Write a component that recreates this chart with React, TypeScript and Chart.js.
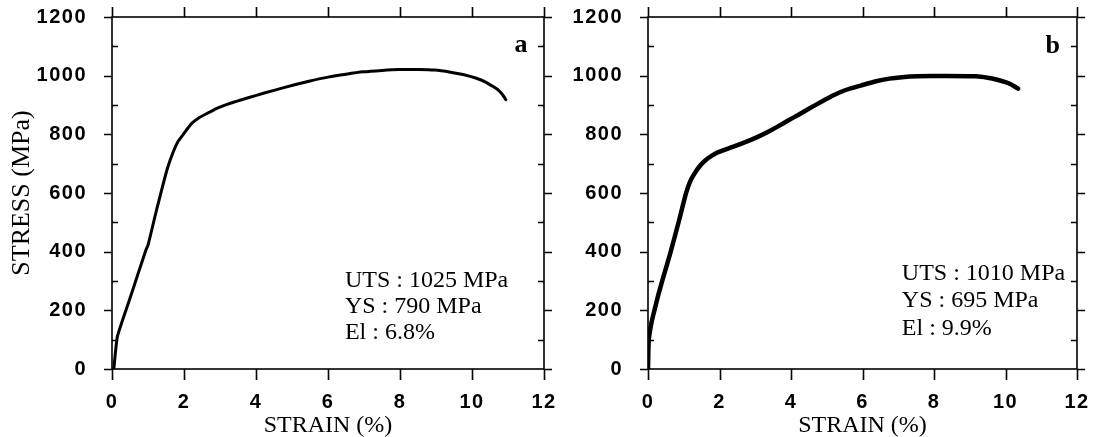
import React, { useEffect, useRef } from 'react';
import { Chart, registerables } from 'chart.js';

Chart.register(...registerables);

// ---- data ----
const xTickValues = [0, 2, 4, 6, 8, 10, 12];
const yTickValues = [0, 200, 400, 600, 800, 1000, 1200];
const yMinorTickValues = [100, 300, 500, 700, 900, 1100];

const strainA = [0.05, 0.15, 0.5, 0.94, 1.0, 1.24, 1.53, 1.7, 1.83, 1.98, 2.1, 2.23, 2.4, 2.62, 2.9, 3.22, 3.6, 4.01, 4.5, 5.1, 5.5, 6.0, 6.5, 6.98, 7.5, 7.97, 8.5, 8.96, 9.4, 9.75, 10.1, 10.35, 10.6, 10.74, 10.85, 10.94];
const stressA = [0, 111, 241, 405, 422, 543, 680, 740, 775, 800, 820, 839, 855, 870, 888, 903, 918, 933, 950, 970, 982, 995, 1005, 1013, 1018, 1021, 1021, 1019, 1012, 1004, 992, 980, 962, 950, 935, 918];

const strainB = [0, 0.02, 0.1, 0.18, 0.3, 0.43, 0.62, 0.87, 1.06, 1.18, 1.3, 1.45, 1.6, 1.8, 1.98, 2.37, 2.86, 3.1, 3.35, 3.65, 3.93, 4.2, 4.51, 4.85, 5.19, 5.55, 5.97, 6.35, 6.75, 7.1, 7.53, 8.31, 9.18, 9.5, 9.77, 10.0, 10.16, 10.35];
const stressB = [0, 98, 160, 200, 258, 314, 393, 507, 598, 640, 666, 692, 711, 728, 740, 757, 780, 793, 808, 828, 848, 866, 888, 911, 933, 952, 967, 980, 990, 995, 998, 999, 998, 993, 986, 978, 970, 956];

const notesA = ['UTS : 1025 MPa', 'YS : 790 MPa', 'El : 6.8%'];
const notesB = ['UTS : 1010 MPa', 'YS : 695 MPa', 'El : 9.9%'];

const xTitle = 'STRAIN (%)';
const yTitle = 'STRESS (MPa)';

// ---- layout / style (not data) ----
type Panel = {
  strain: number[];
  stress: number[];
  notes: string[];
  letter: string;
  showYTitle: boolean;
  canvasLeft: number;
  canvasWidth: number;
  yAxisWidth: number;
  padRight: number;
  lineWidth: number;
  noteX: number;
  noteY: number[];
  letterX: number;
  letterY: number;
};

const panels: Panel[] = [
  {
    strain: strainA, stress: stressA, notes: notesA, letter: 'a', showYTitle: true,
    canvasLeft: 0, canvasWidth: 560, yAxisWidth: 112, padRight: 16, lineWidth: 3,
    noteX: 6.47, noteY: [280, 191, 102], letterX: 11.54, letterY: 1081,
  },
  {
    strain: strainB, stress: stressB, notes: notesB, letter: 'b', showYTitle: false,
    canvasLeft: 560, canvasWidth: 545, yAxisWidth: 88, padRight: 28, lineWidth: 4.5,
    noteX: 7.1, noteY: [303, 211, 116], letterX: 11.52, letterY: 1077,
  },
];

const HEIGHT = 437;
const TICK_FONT = '"Liberation Sans", Arial, sans-serif';
const SERIF = '"Liberation Serif", "Times New Roman", serif';

function makeFramePlugin(p: Panel) {
  return {
    id: 'frame',
    beforeDraw(chart: any) {
      chart.ctx.letterSpacing = '1.5px';
    },
    afterDraw(chart: any) {
      const ctx = chart.ctx as CanvasRenderingContext2D;
      const { left, right, top, bottom } = chart.chartArea;
      const xs = chart.scales.x;
      const ys = chart.scales.y;
      ctx.save();
      (ctx as any).letterSpacing = '0px';
      ctx.strokeStyle = '#000';
      ctx.lineWidth = 1.6;
      ctx.strokeRect(left, top, right - left, bottom - top);
      ctx.beginPath();
      for (const v of xTickValues) {
        const px = Math.round(xs.getPixelForValue(v)) + 0.5;
        ctx.moveTo(px, bottom);
        ctx.lineTo(px, bottom + 11);
        ctx.moveTo(px, top);
        ctx.lineTo(px, top - 10);
      }
      for (const v of yTickValues) {
        const py = Math.round(ys.getPixelForValue(v)) + 0.5;
        ctx.moveTo(left - 8, py);
        ctx.lineTo(left, py);
        ctx.moveTo(right, py);
        ctx.lineTo(right + 8, py);
      }
      for (const v of yMinorTickValues) {
        const py = Math.round(ys.getPixelForValue(v)) + 0.5;
        ctx.moveTo(left, py);
        ctx.lineTo(left + 6, py);
        ctx.moveTo(right - 6, py);
        ctx.lineTo(right, py);
      }
      ctx.stroke();

      ctx.fillStyle = '#000';
      // x title
      ctx.font = `24px ${SERIF}`;
      ctx.textAlign = 'center';
      ctx.textBaseline = 'alphabetic';
      ctx.fillText(xTitle, (left + right) / 2, 432);
      // y title
      if (p.showYTitle) {
        ctx.save();
        ctx.translate(29, (top + bottom) / 2);
        ctx.rotate(-Math.PI / 2);
        ctx.font = `26px ${SERIF}`;
        ctx.textAlign = 'center';
        ctx.fillText(yTitle, 0, 0);
        ctx.restore();
      }
      // notes
      const nx = xs.getPixelForValue(p.noteX);
      p.notes.forEach((t, i) => {
        const ny = ys.getPixelForValue(p.noteY[i]);
        ctx.font = `24px ${SERIF}`;
        ctx.textAlign = 'left';
        ctx.fillText(t, nx, ny);
      });
      // panel letter
      ctx.font = `bold 26px ${SERIF}`;
      ctx.textAlign = 'right';
      ctx.fillText(p.letter, xs.getPixelForValue(p.letterX), ys.getPixelForValue(p.letterY));

      ctx.restore();
    },
  };
}

function PanelChart({ p }: { p: Panel }) {
  const ref = useRef<HTMLCanvasElement | null>(null);
  useEffect(() => {
    if (!ref.current) return;
    const chart = new Chart(ref.current, {
      type: 'line',
      data: {
        datasets: [
          {
            data: p.strain.map((x, i) => ({ x, y: p.stress[i] })),
            borderColor: '#000',
            borderWidth: p.lineWidth,
            pointRadius: 0,
            tension: 0.15,
            fill: false,
            borderCapStyle: 'round',
            borderJoinStyle: 'round',
          } as any,
        ],
      },
      options: {
        animation: false,
        responsive: false,
        events: [],
        layout: { padding: { top: 17, right: p.padRight, left: 0, bottom: 0 } },
        plugins: { legend: { display: false }, tooltip: { enabled: false }, title: { display: false } },
        scales: {
          x: {
            type: 'linear',
            min: 0,
            max: 12,
            grid: { display: false },
            border: { display: false },
            afterBuildTicks: (s: any) => { s.ticks = xTickValues.map((v) => ({ value: v })); },
            afterFit: (s: any) => {
              s.height = HEIGHT - 369;
              s.paddingLeft = 0;
              s.paddingRight = 0;
            },
            ticks: {
              color: '#000',
              padding: 13,
              maxRotation: 0,
              autoSkip: false,
              callback: (v: any) => String(v),
              font: { family: TICK_FONT, size: 20, weight: 'bold' },
            },
          },
          y: {
            type: 'linear',
            min: 0,
            max: 1200,
            grid: { display: false },
            border: { display: false },
            afterBuildTicks: (s: any) => { s.ticks = yTickValues.map((v) => ({ value: v })); },
            afterFit: (s: any) => {
              s.width = p.yAxisWidth;
              s.paddingTop = 0;
              s.paddingBottom = 0;
            },
            ticks: {
              color: '#000',
              padding: 17,
              autoSkip: false,
              callback: (v: any) => String(v),
              font: { family: TICK_FONT, size: 20, weight: 'bold' },
            },
          },
        },
      },
      plugins: [makeFramePlugin(p)],
    } as any);
    return () => chart.destroy();
  }, [p]);
  return (
    <div style={{ position: 'absolute', left: p.canvasLeft, top: 0, width: p.canvasWidth, height: HEIGHT }}>
      <canvas ref={ref} width={p.canvasWidth} height={HEIGHT} style={{ width: p.canvasWidth, height: HEIGHT, display: 'block' }} />
    </div>
  );
}

export default function App() {
  return (
    <div style={{ position: 'fixed', left: 0, top: 0, width: 1105, height: HEIGHT, background: '#fff', overflow: 'hidden' }}>
      {panels.map((p) => (
        <PanelChart key={p.letter} p={p} />
      ))}
    </div>
  );
}
